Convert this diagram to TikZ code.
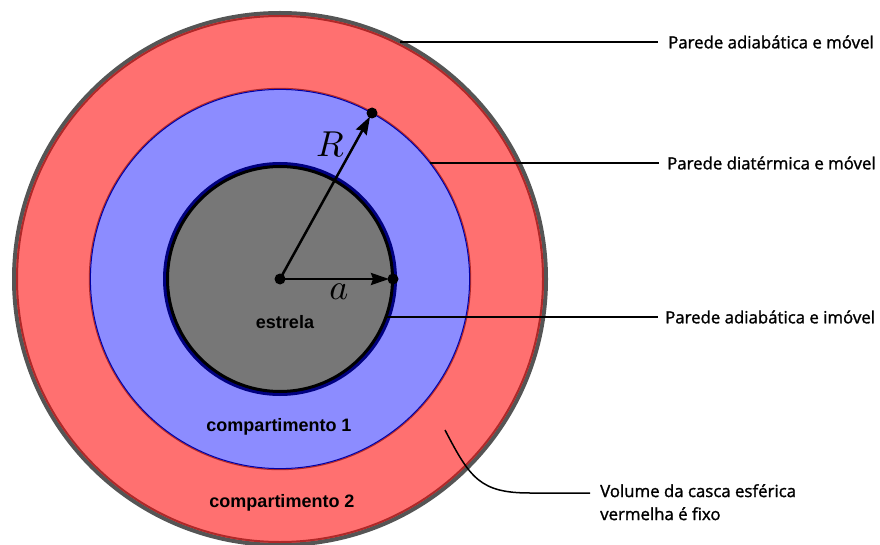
\documentclass[tikz,border=0pt]{standalone}
\usepackage{fontspec}
\usetikzlibrary{arrows.meta}
\newfontfamily\labfont{Open Sans}[FakeBold=1.4]
\newfontfamily\inner{Liberation Sans}
\definecolor{redfill}{RGB}{255,112,112}
\definecolor{bluefill}{RGB}{140,140,255}
\definecolor{starfill}{RGB}{119,119,119}
\definecolor{rimgray}{RGB}{85,85,85}
\definecolor{rimred}{RGB}{176,40,40}
\definecolor{navy}{RGB}{0,0,128}
\tikzset{
  walllabel/.style={anchor=west, inner sep=0pt, font=\labfont\fontsize{16.8}{23}\selectfont},
  regionlabel/.style={inner sep=0pt, font=\inner\bfseries\fontsize{18}{20}\selectfont},
  pointer/.style={line width=1.5pt, black},
  dot/.style={circle, fill=black, inner sep=0pt, minimum size=11pt},
  radius arrow/.style={line width=2.5pt, -{Stealth[length=18pt,width=12pt,inset=2pt]}},
  mathlabel/.style={inner sep=0pt, scale=3.6}
}
\begin{document}
\begin{tikzpicture}[x=1pt,y=-1pt]
\useasboundingbox (0,0) rectangle (880,545);
\coordinate (C) at (280,279);
% outer red shell
\fill[redfill] (C) circle (266pt);
\draw[rimgray, line width=4pt] (C) circle (266pt);
\draw[rimred, line width=2pt] (C) circle (263pt);
% blue compartment
\fill[bluefill] (C) circle (190pt);
\draw[rimred, line width=1.2pt] (C) circle (190.6pt);
\draw[navy!70!blue, line width=1pt] (C) circle (189.6pt);
% star
\fill[starfill] (C) circle (115pt);
\draw[navy, line width=4pt] (C) circle (115pt);
\draw[black, line width=3pt] (C) circle (112.5pt);
% points
\node[dot] (c0) at (C) {};
\node[dot] (pR) at (372,113) {};
\node[dot] (pa) at (393,279) {};
\draw[radius arrow, shorten >=4pt] (c0.center) -- (pR.center);
\draw[radius arrow, shorten >=4pt] (c0.center) -- (pa.center);
\node[mathlabel] (lR) at (330,144) {$R$};
\node[mathlabel] (la) at (339,292) {$a$};
% region labels
\node[regionlabel] (est) at (285,322) {estrela};
\node[regionlabel] (comp1) at (279,427) {compartimento 1};
\node[regionlabel] (comp2) at (282,503) {compartimento 2};
% wall labels
\coordinate (w1) at (400,42);
\coordinate (w2) at (430,163);
\coordinate (w3) at (387,317);
\coordinate (w4) at (445,430);
\node[walllabel] (t1) at (668,42) {Parede adiabática e móvel};
\node[walllabel] (t2) at (667,163) {Parede diatérmica e móvel};
\node[walllabel] (t3) at (665,317) {Parede adiabática e imóvel};
\node[walllabel, anchor=north west, align=left] (t4) at (600,484) {Volume da casca esférica\\vermelha é fixo};
\draw[pointer] (w1) -- ([xshift=-10pt]t1.west);
\draw[pointer] (w2) -- ([xshift=-8pt]t2.west);
\draw[pointer] (w3) -- ([xshift=-7pt]t3.west);
\draw[pointer] (w4) .. controls (470,478) and (480,493) .. (530,493) -- (590,493);
\end{tikzpicture}
\end{document}
